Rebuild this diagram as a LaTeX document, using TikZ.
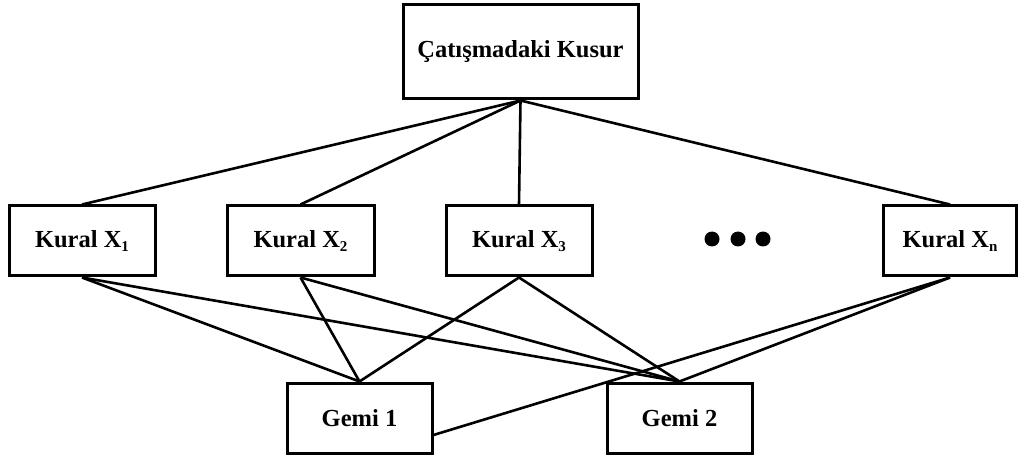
\documentclass[tikz,border=0pt]{standalone}
\usepackage{fontspec}
\setmainfont{Liberation Serif}
\newcommand\subx[1]{\raisebox{-3.5pt}{\fontsize{15}{15}\selectfont #1}}
\begin{document}
\begin{tikzpicture}[x=1pt,y=-1pt,
  box/.style={draw, line width=3pt, inner sep=0pt, minimum height=70pt,
    font=\fontsize{24.5}{27}\selectfont\bfseries},
  link/.style={line width=2.6pt},
  dotmark/.style={circle, fill=black, inner sep=0pt, minimum size=15pt}]
\useasboundingbox (0,0) rectangle (1018,457);
\node[box, minimum width=235pt, minimum height=94pt] (top) at (520.5,52) {Çatışmadaki Kusur};
\node[box, minimum width=146pt] (x1) at (82,241) {Kural X\subx{1}};
\node[box, minimum width=147pt] (x2) at (300.5,241) {Kural X\subx{2}};
\node[box, minimum width=146pt] (x3) at (519,241) {Kural X\subx{3}};
\node[box, minimum width=133pt] (xn) at (950,241) {Kural X\subx{n}};
\node[dotmark] (d1) at (712,239) {};
\node[dotmark] (d2) at (738,239) {};
\node[dotmark] (d3) at (763,239) {};
\node[box, minimum width=145pt] (g1) at (359.5,418) {Gemi 1};
\node[box, minimum width=145pt] (g2) at (679.5,418) {Gemi 2};
\coordinate (g1r) at ([yshift=-17pt]g1.east);
\draw[link] (top.south) -- (x1.north);
\draw[link] (top.south) -- (x2.north);
\draw[link] (top.south) -- (x3.north);
\draw[link] (top.south) -- (xn.north);
\draw[link] (x1.south) -- (g1.north);
\draw[link] (x1.south) -- (g2.north);
\draw[link] (x2.south) -- (g1.north);
\draw[link] (x2.south) -- (g2.north);
\draw[link] (x3.south) -- (g1.north);
\draw[link] (x3.south) -- (g2.north);
\draw[link] (xn.south) -- (g1r);
\draw[link] (xn.south) -- (g2.north);
\end{tikzpicture}
\end{document}
